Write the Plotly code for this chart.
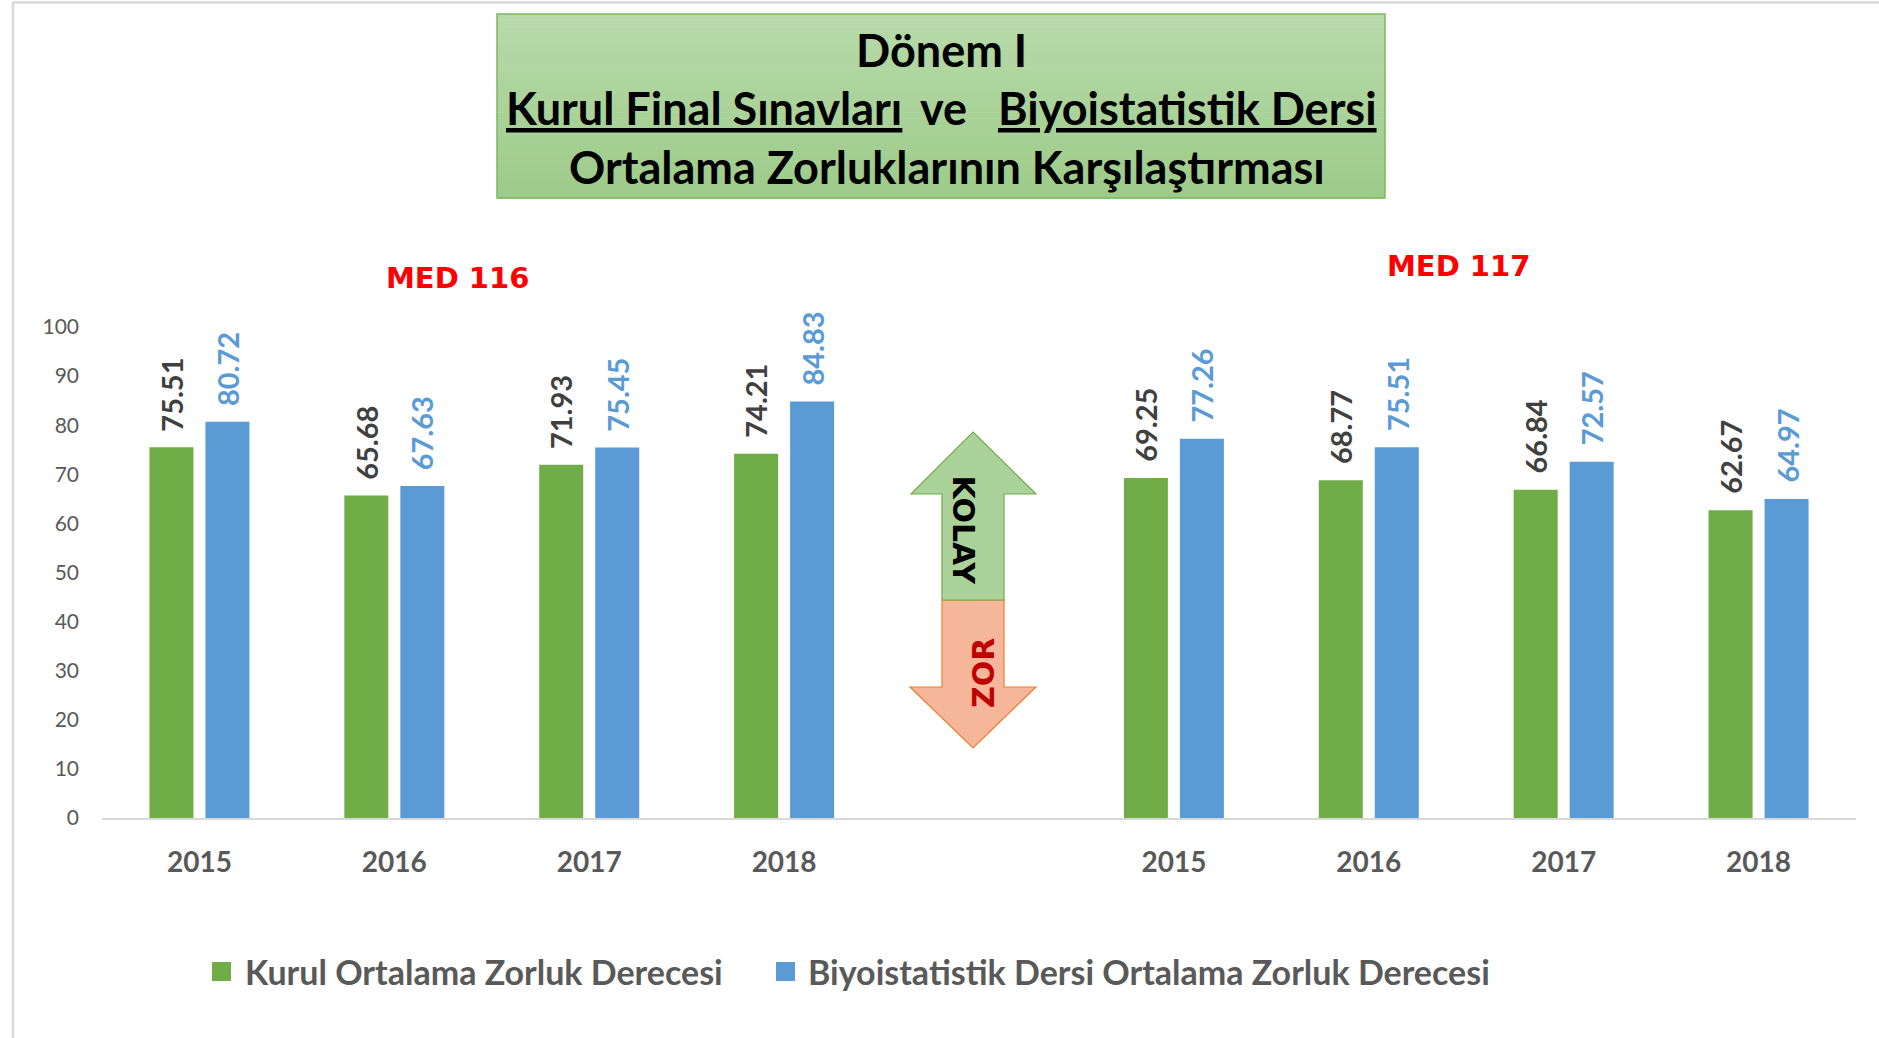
import plotly.graph_objects as go

# ---------------- data ----------------
years = ["2015", "2016", "2017", "2018"]
groups = ["MED 116", "MED 117"]
kurul_med116 = [75.51, 65.68, 71.93, 74.21]
biyo_med116 = [80.72, 67.63, 75.45, 84.83]
kurul_med117 = [69.25, 68.77, 66.84, 62.67]
biyo_med117 = [77.26, 75.51, 72.57, 64.97]
series_names = ["Kurul Ortalama Zorluk Derecesi",
                "Biyoistatistik Dersi Ortalama Zorluk Derecesi"]
y_ticks = list(range(0, 101, 10))
title_line1 = "Dönem I"
title_line2_left = "Kurul Final Sınavları"
title_line2_mid = "ve"
title_line2_right = "Biyoistatistik Dersi"
title_line3 = "Ortalama Zorluklarının Karşılaştırması"
arrow_up_text = "KOLAY"
arrow_down_text = "ZOR"

# ---------------- layout geometry (pixels) ----------------
W, H = 1879, 1038
L, R, T, B = 102, 1856, 327, 818
GREEN, BLUE = "#70ad47", "#5b9bd5"
GRAY_TXT = "#595959"
FONT = "Lato"

n_slots = 9
slot_w = (R - L) / n_slots


def px(x):
    return (x - L) / (R - L)


def py(y):
    return (B - y) / (B - T)


# positions: 4 years for MED 116, empty slot, 4 years for MED 117
x_pos = list(range(len(years))) + [len(years) + 1 + i for i in range(len(years))]
kurul = kurul_med116 + kurul_med117
biyo = biyo_med116 + biyo_med117
tick_text = years + years

bar_w = 44 / slot_w
off_green = -50 / slot_w
off_blue = 6 / slot_w

fig = go.Figure()
fig.add_trace(go.Bar(x=x_pos, y=kurul, name=series_names[0], width=bar_w,
                     offset=off_green, marker=dict(color=GREEN, line=dict(width=0)),
                     showlegend=False, hoverinfo="y"))
fig.add_trace(go.Bar(x=x_pos, y=biyo, name=series_names[1], width=bar_w,
                     offset=off_blue, marker=dict(color=BLUE, line=dict(width=0)),
                     showlegend=False, hoverinfo="y"))

annotations = []
# data labels
for xs, vals, off, col in [(x_pos, kurul, off_green, "#404040"), (x_pos, biyo, off_blue, BLUE)]:
    for xv, v in zip(xs, vals):
        annotations.append(dict(x=xv + off + bar_w / 2, y=v, xref="x", yref="y",
                                text=f"<b>{v:.2f}</b>", textangle=-90, showarrow=False,
                                xanchor="center", yanchor="bottom", yshift=14,
                                font=dict(family=FONT, size=29, color=col)))

# group labels
for (gx, gy), g in zip([(457, 278), (1458, 266)], groups):
    annotations.append(dict(x=px(gx), y=py(gy), xref="paper", yref="paper", text=f"<b>{g}</b>",
                            showarrow=False, xanchor="center", yanchor="middle",
                            font=dict(family="DejaVu Sans", size=29, color="#ff0000")))

# title
tfont = dict(family=FONT, size=45, color="#000000")
annotations.append(dict(x=px(941), y=py(50), xref="paper", yref="paper", text=f"<b>{title_line1}</b>",
                        showarrow=False, xanchor="center", yanchor="middle", font=tfont))
annotations.append(dict(x=px(504), y=py(108), xref="paper", yref="paper",
                        text=f"<b><u>{title_line2_left}</u></b>",
                        showarrow=False, xanchor="left", yanchor="middle", font=tfont))
annotations.append(dict(x=px(943), y=py(108), xref="paper", yref="paper", text=f"<b>{title_line2_mid}</b>",
                        showarrow=False, xanchor="center", yanchor="middle", font=tfont))
annotations.append(dict(x=px(1379), y=py(108), xref="paper", yref="paper",
                        text=f"<b><u>{title_line2_right}</u></b>",
                        showarrow=False, xanchor="right", yanchor="middle", font=tfont))
annotations.append(dict(x=px(947), y=py(167), xref="paper", yref="paper", text=f"<b>{title_line3}</b>",
                        showarrow=False, xanchor="center", yanchor="middle", font=tfont))

# arrow texts
annotations.append(dict(x=px(963.5), y=py(530), xref="paper", yref="paper", text=f"<b>{arrow_up_text}</b>",
                        textangle=90, showarrow=False, xanchor="center", yanchor="middle",
                        font=dict(family="DejaVu Sans", size=30, color="#000000")))
annotations.append(dict(x=px(983), y=py(673), xref="paper", yref="paper", text=f"<b>{arrow_down_text}</b>",
                        textangle=-90, showarrow=False, xanchor="center", yanchor="middle",
                        font=dict(family="DejaVu Sans", size=30, color="#c00000")))

# legend (custom)
legend_items = [(212, 243, GREEN, series_names[0]), (776, 806, BLUE, series_names[1])]
shapes = []
for sq_x, tx, col, name in legend_items:
    shapes.append(dict(type="rect", xref="paper", yref="paper", x0=px(sq_x), x1=px(sq_x + 19),
                       y0=py(962), y1=py(981), fillcolor=col, line=dict(width=0)))
    annotations.append(dict(x=px(tx), y=py(972), xref="paper", yref="paper", text=f"<b>{name}</b>",
                            showarrow=False, xanchor="left", yanchor="middle",
                            font=dict(family=FONT, size=34, color=GRAY_TXT)))

# title box with vertical gradient (strips)
bx0, bx1, by0, by1 = 497, 1385, 14, 198
top_c, bot_c = (184, 218, 171), (157, 203, 137)
n_strips = 30
for i in range(n_strips):
    t = i / (n_strips - 1)
    c = tuple(round(top_c[k] + (bot_c[k] - top_c[k]) * t) for k in range(3))
    y0 = by0 + (by1 - by0) * i / n_strips
    y1 = by0 + (by1 - by0) * (i + 1) / n_strips
    shapes.append(dict(type="rect", xref="paper", yref="paper", x0=px(bx0), x1=px(bx1),
                       y0=py(y1 + 0.6), y1=py(y0), fillcolor="rgb(%d,%d,%d)" % c,
                       line=dict(width=0), layer="below"))
shapes.append(dict(type="rect", xref="paper", yref="paper", x0=px(bx0), x1=px(bx1),
                   y0=py(by1), y1=py(by0), fillcolor="rgba(0,0,0,0)",
                   line=dict(color="#7cb85e", width=1.5), layer="below"))


def path(points):
    return "M " + " L ".join(f"{px(a):.5f},{py(b):.5f}" for a, b in points) + " Z"


up_arrow = [(973, 432), (1036, 494), (1004, 494), (1004, 600), (942, 600), (942, 494), (911, 494)]
down_arrow = [(942, 600), (1004, 600), (1004, 687), (1036, 687), (973, 748), (910, 687), (942, 687)]
shapes.append(dict(type="path", xref="paper", yref="paper", path=path(down_arrow),
                   fillcolor="#f6b699", line=dict(color="#ed7d31", width=1.2), layer="below"))
shapes.append(dict(type="path", xref="paper", yref="paper", path=path(up_arrow),
                   fillcolor="#acd29c", line=dict(color="#70ad47", width=1.2), layer="below"))

# outer frame lines (left, top)
shapes.append(dict(type="line", xref="paper", yref="paper", x0=px(13), x1=px(13), y0=py(2), y1=py(H),
                   line=dict(color="#d9d9d9", width=2.5)))
shapes.append(dict(type="line", xref="paper", yref="paper", x0=px(12), x1=px(W), y0=py(2.5), y1=py(2.5),
                   line=dict(color="#d9d9d9", width=2.5)))

fig.update_layout(
    width=W, height=H,
    margin=dict(l=L, r=W - R, t=T, b=H - B, pad=0),
    paper_bgcolor="white", plot_bgcolor="white",
    barmode="overlay",
    showlegend=False,
    annotations=annotations,
    shapes=shapes,
    xaxis=dict(range=[-0.5, n_slots - 0.5], tickmode="array", tickvals=x_pos, ticktext=tick_text,
               showgrid=False, zeroline=False, showline=True, linecolor="#d9d9d9", linewidth=2,
               ticks="", ticklabelstandoff=18,
               tickfont=dict(family=FONT, size=28, color=GRAY_TXT, weight="bold"), fixedrange=True),
    yaxis=dict(range=[0, 100], tickmode="array", tickvals=y_ticks, showgrid=False, zeroline=False,
               showline=False, ticks="", ticklabelstandoff=22,
               tickfont=dict(family=FONT, size=21, color=GRAY_TXT), fixedrange=True),
)

fig.write_html("out.html", config={"displayModeBar": False},
               post_script="document.body.style.margin='0';document.body.style.overflow='hidden';")
